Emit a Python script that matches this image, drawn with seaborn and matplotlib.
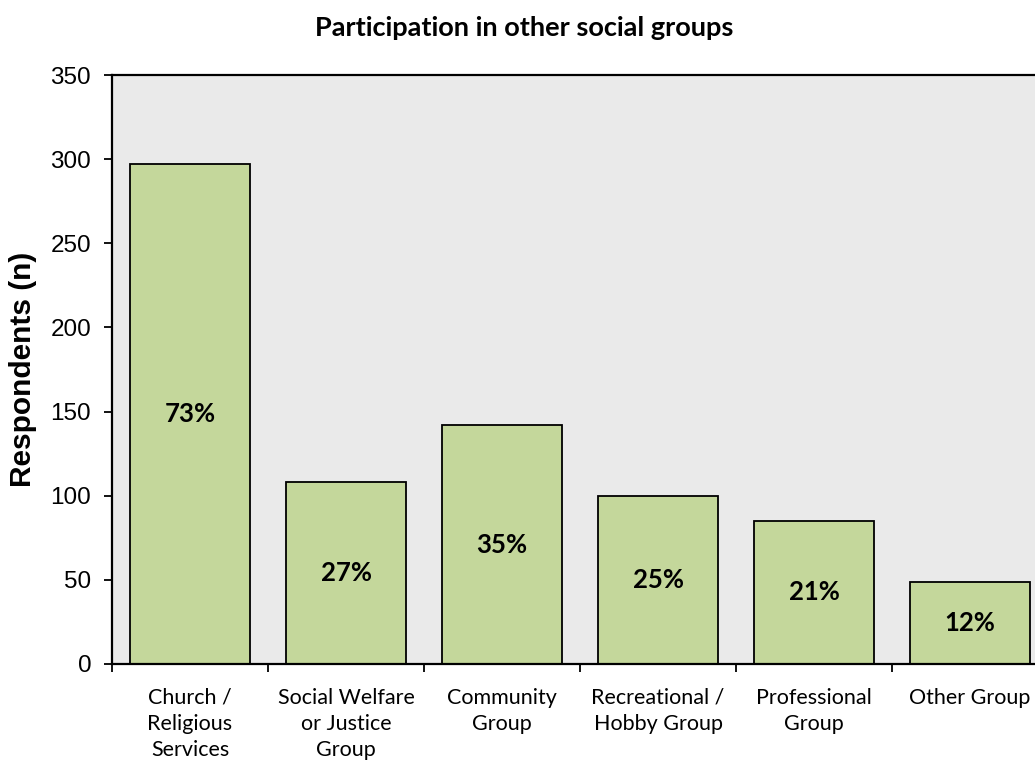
import matplotlib
matplotlib.use("Agg")
import matplotlib.pyplot as plt
import seaborn as sns
import pandas as pd

# Survey data
categories = [
    "Church /\nReligious\nServices",
    "Social Welfare\nor Justice\nGroup",
    "Community\nGroup",
    "Recreational /\nHobby Group",
    "Professional\nGroup",
    "Other Group",
]
counts = [297, 108, 142, 100, 85, 49]
percent_labels = ["73%", "27%", "35%", "25%", "21%", "12%"]

sns.set_theme(style="white")
plt.rcParams["font.family"] = ["Lato", "DejaVu Sans"]
plt.rcParams["text.color"] = "black"
plt.rcParams["axes.labelcolor"] = "black"
plt.rcParams["xtick.color"] = "black"
plt.rcParams["ytick.color"] = "black"

df = pd.DataFrame({"group": categories, "n": counts})

fig = plt.figure(figsize=(10.35, 7.62), dpi=100)
ax = fig.add_axes([112 / 1035, 98 / 762, 936 / 1035, 589 / 762])
ax.set_facecolor("#EAEAEA")

sns.barplot(data=df, x="group", y="n", color="#C4D79B", saturation=1,
            edgecolor="black", linewidth=1.3, width=0.77, ax=ax)

ax.bar_label(ax.containers[0], labels=percent_labels, label_type="center",
             fontsize=18.5, fontweight="bold", color="black")

ax.set_ylim(0, 350)
ax.set_xlim(-0.5, len(categories) - 0.5)
ax.set_yticks(range(0, 351, 50))
ax.tick_params(axis="y", which="major", direction="out", length=6, width=1.3,
               pad=9, labelsize=17.5, colors="black", left=True)
for lab in ax.get_yticklabels():
    lab.set_fontfamily("Liberation Sans")

# category labels without ticks; tick marks at category boundaries
ax.tick_params(axis="x", which="major", length=0, pad=17, labelsize=15.5,
               labelcolor="black")
ax.set_xticks([i - 0.5 for i in range(len(categories) + 1)], minor=True)
ax.tick_params(axis="x", which="minor", direction="out", length=6, width=1.3,
               color="black", bottom=True)
for lab in ax.get_xticklabels():
    lab.set_linespacing(1.38)

for side in ["left", "bottom", "top", "right"]:
    ax.spines[side].set_visible(True)
    ax.spines[side].set_color("black")
    ax.spines[side].set_linewidth(1.6)

ax.set_xlabel("")
ax.set_ylabel("Respondents (n)", fontsize=21.5, fontweight="bold",
              fontfamily="Liberation Sans", labelpad=10, color="black")

fig.text(0.5 * (313 + 735) / 1035, 1 - 28 / 762, "Participation in other social groups",
         ha="center", va="center", fontsize=19.5, fontweight="bold", color="black")

fig.savefig("out.png", dpi=100)
